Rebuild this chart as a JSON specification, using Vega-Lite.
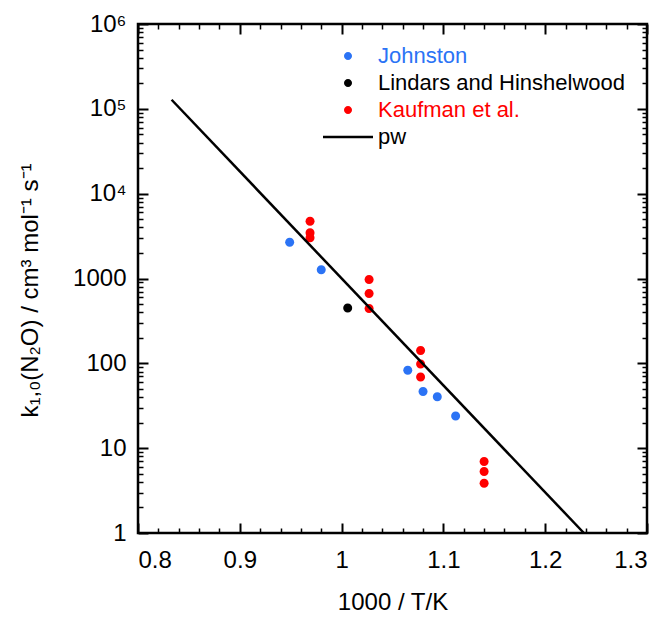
{
  "$schema": "https://vega.github.io/schema/vega-lite/v6.json",
  "autosize": "none",
  "width": 509,
  "height": 509,
  "padding": {"left": 138, "top": 24, "right": 19, "bottom": 84},
  "config": {
    "font": "Liberation Sans",
    "view": {"stroke": "black", "strokeWidth": 2.5},
    "axis": {"domain": false, "grid": false, "tickColor": "black", "labelColor": "black", "titleColor": "black", "labelFont": "Liberation Sans", "titleFont": "Liberation Sans", "titleFontWeight": "normal"},
    "legend": {
      "orient": "none", "legendX": 199, "legendY": 21, "padding": 0,
      "labelFont": "Liberation Sans", "labelFontSize": 22, "symbolSize": 100, "labelOffset": 19,
      "rowPadding": 5, "symbolStrokeWidth": 0, "labelLimit": 400,
      "labelColor": {"expr": "datum.label == 'Johnston' ? '#2b73f5' : datum.label == 'Kaufman et al.' ? '#ff0000' : 'black'"}
    }
  },
  "datasets": {
    "pts": [
      {"series": "Johnston", "x": 0.949, "k": 2674},
      {"series": "Johnston", "x": 0.980, "k": 1265},
      {"series": "Johnston", "x": 1.065, "k": 83},
      {"series": "Johnston", "x": 1.080, "k": 46.5},
      {"series": "Johnston", "x": 1.094, "k": 40.5},
      {"series": "Johnston", "x": 1.112, "k": 24},
      {"series": "Lindars and Hinshelwood", "x": 1.006, "k": 448},
      {"series": "Kaufman et al.", "x": 0.969, "k": 4720},
      {"series": "Kaufman et al.", "x": 0.969, "k": 3450},
      {"series": "Kaufman et al.", "x": 0.969, "k": 3015},
      {"series": "Kaufman et al.", "x": 1.027, "k": 973},
      {"series": "Kaufman et al.", "x": 1.027, "k": 667},
      {"series": "Kaufman et al.", "x": 1.027, "k": 443},
      {"series": "Kaufman et al.", "x": 1.0776, "k": 142},
      {"series": "Kaufman et al.", "x": 1.0776, "k": 98},
      {"series": "Kaufman et al.", "x": 1.0776, "k": 69},
      {"series": "Kaufman et al.", "x": 1.140, "k": 6.96},
      {"series": "Kaufman et al.", "x": 1.140, "k": 5.32},
      {"series": "Kaufman et al.", "x": 1.140, "k": 3.87}
    ],
    "pw": [
      {"series": "pw", "x": 0.833, "k": 128000},
      {"series": "pw", "x": 1.238, "k": 1}
    ]
  },
  "resolve": {"axis": {"x": "independent", "y": "independent"}},
  "layer": [
    {
      "data": {"name": "pts"},
      "mark": {"type": "point", "filled": true, "size": 127, "opacity": 1},
      "encoding": {
        "x": {"field": "x", "type": "quantitative", "scale": {"domain": [0.8, 1.3], "nice": false, "zero": false},
          "axis": {"orient": "bottom", "values": [0.8, 0.9, 1, 1.1, 1.2, 1.3], "format": ".1~f", "tickSize": -10, "tickWidth": 2, "labelPadding": 25, "labelFontSize": 24, "title": "1000 / T/K", "titleFontSize": 24, "titlePadding": 18}},
        "y": {"field": "k", "type": "quantitative", "scale": {"type": "log", "domain": [1, 1000000], "nice": false},
          "axis": {"orient": "left", "values": [1, 10, 100, 1000, 10000, 100000, 1000000], "tickSize": -10, "tickWidth": 2, "labelPadding": 22, "labelFontSize": 24,
            "labelExpr": "datum.value == 10000 ? '10⁴' : datum.value == 100000 ? '10⁵' : datum.value == 1000000 ? '10⁶' : format(datum.value, 'd')",
            "title": "k₁,₀(N₂O) / cm³ mol⁻¹ s⁻¹", "titleFontSize": 24, "titlePadding": 30, "titleY": 266}},
        "color": {"field": "series", "type": "nominal", "title": null,
          "scale": {"domain": ["Johnston", "Lindars and Hinshelwood", "Kaufman et al.", "pw"], "range": ["#2b73f5", "black", "#ff0000", "black"]}},
        "shape": {"field": "series", "type": "nominal", "title": null,
          "scale": {"domain": ["Johnston", "Lindars and Hinshelwood", "Kaufman et al.", "pw"],
            "range": ["M-0.8,0A0.8,0.8,0,1,1,0.8,0A0.8,0.8,0,1,1,-0.8,0Z", "M-0.8,0A0.8,0.8,0,1,1,0.8,0A0.8,0.8,0,1,1,-0.8,0Z", "M-0.8,0A0.8,0.8,0,1,1,0.8,0A0.8,0.8,0,1,1,-0.8,0Z", "M-5,-0.26H5V0.26H-5Z"]}}
      }
    },
    {
      "data": {"name": "pw"},
      "mark": {"type": "line", "strokeWidth": 2.5},
      "encoding": {
        "x": {"field": "x", "type": "quantitative", "scale": {"domain": [0.8, 1.3], "nice": false, "zero": false},
          "axis": {"orient": "top", "values": [0.8, 0.9, 1, 1.1, 1.2, 1.3], "labels": false, "tickSize": -10, "tickWidth": 2, "title": null}},
        "y": {"field": "k", "type": "quantitative", "scale": {"type": "log", "domain": [1, 1000000], "nice": false},
          "axis": {"orient": "right", "values": [1, 10, 100, 1000, 10000, 100000, 1000000], "labels": false, "tickSize": -10, "tickWidth": 2, "title": null}},
        "color": {"field": "series", "type": "nominal", "title": null,
          "scale": {"domain": ["Johnston", "Lindars and Hinshelwood", "Kaufman et al.", "pw"], "range": ["#2b73f5", "black", "#ff0000", "black"]}}
      }
    },
    {
      "data": {"name": "pw"},
      "mark": {"type": "line", "opacity": 0},
      "encoding": {
        "x": {"field": "x", "type": "quantitative", "scale": {"domain": [0.8, 1.3], "nice": false, "zero": false},
          "axis": {"orient": "bottom", "values": [0.82, 0.84, 0.86, 0.88, 0.92, 0.94, 0.96, 0.98, 1.02, 1.04, 1.06, 1.08, 1.12, 1.14, 1.16, 1.18, 1.22, 1.24, 1.26, 1.28], "labels": false, "tickSize": -5, "tickWidth": 1.5, "title": null}},
        "y": {"field": "k", "type": "quantitative", "scale": {"type": "log", "domain": [1, 1000000], "nice": false},
          "axis": {"orient": "left", "values": [2,3,4,5,6,7,8,9,20,30,40,50,60,70,80,90,200,300,400,500,600,700,800,900,2000,3000,4000,5000,6000,7000,8000,9000,20000,30000,40000,50000,60000,70000,80000,90000,200000,300000,400000,500000,600000,700000,800000,900000], "labels": false, "tickSize": -5, "tickWidth": 1.5, "title": null}}
      }
    },
    {
      "data": {"name": "pw"},
      "mark": {"type": "line", "opacity": 0},
      "encoding": {
        "x": {"field": "x", "type": "quantitative", "scale": {"domain": [0.8, 1.3], "nice": false, "zero": false},
          "axis": {"orient": "top", "values": [0.82, 0.84, 0.86, 0.88, 0.92, 0.94, 0.96, 0.98, 1.02, 1.04, 1.06, 1.08, 1.12, 1.14, 1.16, 1.18, 1.22, 1.24, 1.26, 1.28], "labels": false, "tickSize": -5, "tickWidth": 1.5, "title": null}},
        "y": {"field": "k", "type": "quantitative", "scale": {"type": "log", "domain": [1, 1000000], "nice": false},
          "axis": {"orient": "right", "values": [2,3,4,5,6,7,8,9,20,30,40,50,60,70,80,90,200,300,400,500,600,700,800,900,2000,3000,4000,5000,6000,7000,8000,9000,20000,30000,40000,50000,60000,70000,80000,90000,200000,300000,400000,500000,600000,700000,800000,900000], "labels": false, "tickSize": -5, "tickWidth": 1.5, "title": null}}
      }
    }
  ]
}
